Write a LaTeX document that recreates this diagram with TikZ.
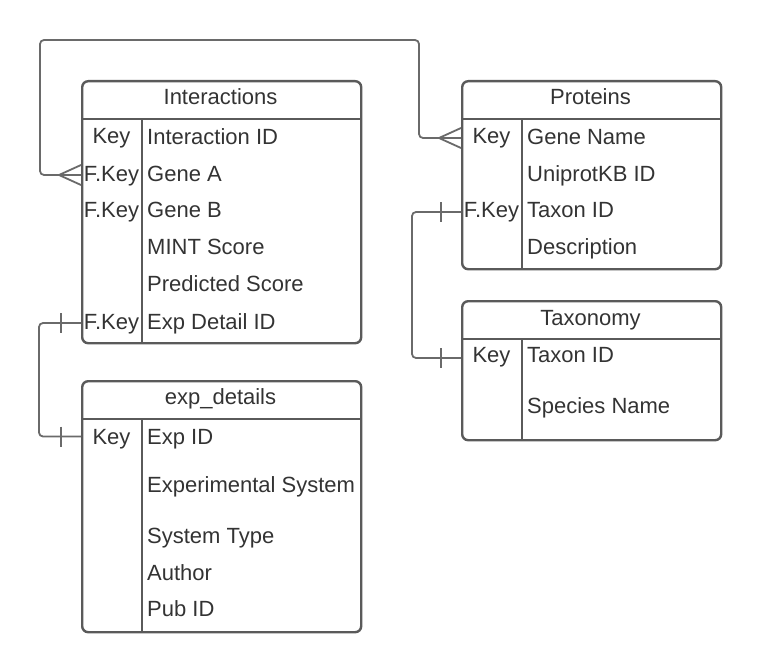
\documentclass[tikz,border=0pt]{standalone}
\usepackage{fontspec}
\setmainfont{Liberation Sans}
\usetikzlibrary{calc}
\definecolor{border}{HTML}{5A5A5A}
\definecolor{connc}{HTML}{6A6A6A}
\definecolor{txt}{HTML}{333333}
\begin{document}
\begin{tikzpicture}[x=1pt,y=-1pt,
  tbl/.style={draw=border,line width=2.4pt,rounded corners=6pt,anchor=north west,inner sep=0pt},
  tline/.style={draw=border,line width=2.4pt},
  conn/.style={draw=connc,line width=1.8pt},
  txtbase/.style={text=txt,font=\fontsize{22}{24}\selectfont,inner sep=0pt,text height=15.8pt,text depth=0pt},
  fld/.style={txtbase,anchor=west},
  keyc/.style={txtbase,anchor=center},
  hdr/.style={txtbase,anchor=center}]
\useasboundingbox (0,0) rectangle (762,671);

% ---------- Interactions ----------
\node[tbl,minimum width=279pt,minimum height=262pt] (inter) at (81,80) {};
\draw[tline] ([yshift=-39pt]inter.north west) -- ([yshift=-39pt]inter.north east);
\draw[tline] ([xshift=61pt,yshift=-39pt]inter.north west) -- ([xshift=61pt]inter.south west);
\node[hdr] (interT) at (220.5,97) {Interactions};
\node[keyc] (iK1) at (111.5,136) {Key};
\node[keyc] (iK2) at (111.5,173.5) {F.Key};
\node[keyc] (iK3) at (111.5,209.5) {F.Key};
\node[keyc] (iK6) at (111.5,321.5) {F.Key};
\node[fld] (iF1) at (147,136.5) {Interaction ID};
\node[fld] (iF2) at (147,173.5) {Gene A};
\node[fld] (iF3) at (147,209.5) {Gene B};
\node[fld] (iF4) at (147,246.5) {MINT Score};
\node[fld] (iF5) at (147,284) {Predicted Score};
\node[fld] (iF6) at (147,321.5) {Exp Detail ID};

% ---------- Proteins ----------
\node[tbl,minimum width=259pt,minimum height=188pt] (prot) at (461,80) {};
\draw[tline] ([yshift=-39pt]prot.north west) -- ([yshift=-39pt]prot.north east);
\draw[tline] ([xshift=61pt,yshift=-39pt]prot.north west) -- ([xshift=61pt]prot.south west);
\node[hdr] (protT) at (590.5,97) {Proteins};
\node[keyc] (pK1) at (491.5,136) {Key};
\node[keyc] (pK3) at (491.5,209.5) {F.Key};
\node[fld] (pF1) at (527,136.5) {Gene Name};
\node[fld] (pF2) at (527,173.5) {UniprotKB ID};
\node[fld] (pF3) at (527,209.5) {Taxon ID};
\node[fld] (pF4) at (527,246.5) {Description};

% ---------- Taxonomy ----------
\node[tbl,minimum width=259pt,minimum height=139pt] (taxo) at (461,300) {};
\draw[tline] ([yshift=-39pt]taxo.north west) -- ([yshift=-39pt]taxo.north east);
\draw[tline] ([xshift=61pt,yshift=-39pt]taxo.north west) -- ([xshift=61pt]taxo.south west);
\node[hdr] (taxoT) at (590.5,318) {Taxonomy};
\node[keyc] (tK1) at (491.5,355) {Key};
\node[fld] (tF1) at (527,355) {Taxon ID};
\node[fld] (tF2) at (527,406) {Species Name};

% ---------- exp_details ----------
\node[tbl,minimum width=279pt,minimum height=251pt] (expd) at (81,380) {};
\draw[tline] ([yshift=-39pt]expd.north west) -- ([yshift=-39pt]expd.north east);
\draw[tline] ([xshift=61pt,yshift=-39pt]expd.north west) -- ([xshift=61pt]expd.south west);
\node[hdr] (expdT) at (220.5,397) {exp\_details};
\node[keyc] (eK1) at (111.5,436.5) {Key};
\node[fld] (eF1) at (147,436.5) {Exp ID};
\node[fld] (eF2) at (147,485) {Experimental System};
\node[fld] (eF3) at (147,535.5) {System Type};
\node[fld] (eF4) at (147,572.5) {Author};
\node[fld] (eF5) at (147,609) {Pub ID};

% ---------- connectors ----------
\coordinate (c1a) at ([yshift=-1.5pt]inter.west |- iK2);
\coordinate (c1b) at ([yshift=-2pt]prot.west |- pK1);
\draw[conn,rounded corners=4pt] (c1a) -| (40,40) -| (419,138) -- (c1b);
\draw[conn] (c1a) ++(-22,0) -- ++(22,-10) (c1a) ++(-22,0) -- ++(22,10);
\draw[conn] (c1b) ++(-22,0) -- ++(22,-10) (c1b) ++(-22,0) -- ++(22,10);

\coordinate (c2a) at ([yshift=-2.5pt]prot.west |- pK3);
\coordinate (c2b) at ([yshift=-3pt]taxo.west |- tK1);
\draw[conn,rounded corners=4pt] (c2a) -| (412,300) |- (c2b);
\draw[conn] (c2a) ++(-20,-10) -- ++(0,20);
\draw[conn] (c2b) ++(-20,-10) -- ++(0,20);

\coordinate (c3a) at ([yshift=-1.5pt]inter.west |- iK6);
\coordinate (c3b) at ([yshift=0pt]expd.west |- eK1);
\draw[conn,rounded corners=4pt] (c3a) -| (39,380) |- (c3b);
\draw[conn] (c3a) ++(-20,-10) -- ++(0,20);
\draw[conn] (c3b) ++(-20,-10) -- ++(0,20);
\end{tikzpicture}
\end{document}
